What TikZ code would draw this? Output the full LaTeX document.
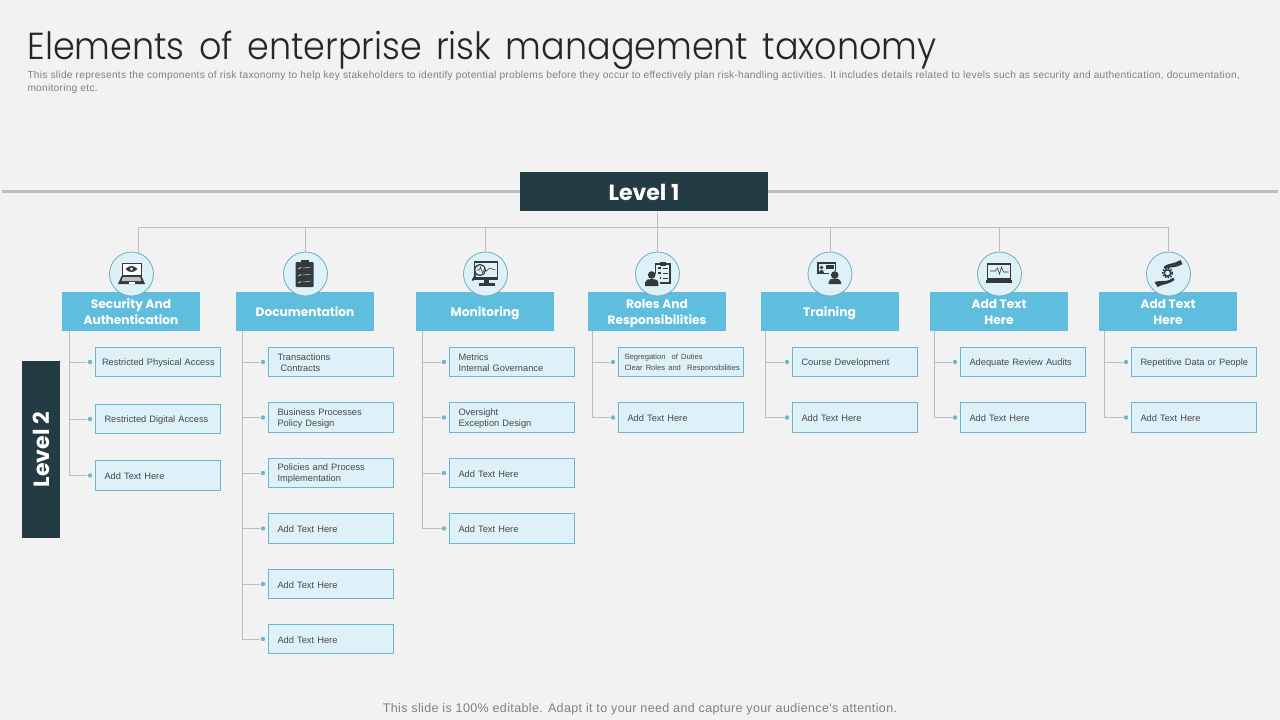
\documentclass[tikz,border=0pt]{standalone}
\usepackage{fontspec}
\setmainfont{Liberation Sans}
\newfontfamily\titlefont[WordSpace=1.5,FakeStretch=0.93]{Poppins Light}
\newfontfamily\headfont{Poppins}[BoldFont={* Bold}]
\newfontfamily\introfont[LetterSpace=2.5]{Liberation Sans}
\newfontfamily\footfont[LetterSpace=3]{Liberation Sans}
\definecolor{pagebg}{HTML}{F2F2F2}
\definecolor{darkteal}{HTML}{233B42}
\definecolor{headblue}{HTML}{5FBDDE}
\definecolor{kidfill}{HTML}{DFF1F8}
\definecolor{kidline}{HTML}{6DB6D2}
\definecolor{treeline}{HTML}{BDBDBD}
\definecolor{icondark}{HTML}{333A3D}
\definecolor{bodygray}{HTML}{808080}
\newcommand{\fs}[2]{\fontsize{#1}{#2}\selectfont}
\newcommand{\headstrut}{\rule[-3.3pt]{0pt}{16pt}}
\newcommand{\twolines}[2]{\headstrut #1\\\headstrut #2}
%% icons, drawn round the centre of their circle
\newcommand{\iconeye}{
  \draw[icondark,fill=white,line width=0.9] (-9.5,-11) rectangle (9.5,1);
  \fill[icondark] (-6,-5) .. controls (-2,-9) and (2,-9) .. (6,-5) .. controls (2,-1) and (-2,-1) .. (-6,-5);
  \fill[kidfill] (0,-5) circle (1.6);
  \fill[icondark] (-10,2) -- (10,2) -- (13.5,10) -- (-13.5,10) -- cycle;
  \fill[white!75!black] (-8.5,3) -- (8.5,3) -- (10,7) -- (-10,7) -- cycle;
  \fill[white] (-3,8) rectangle (3,10);
}
\newcommand{\iconclip}{
  \fill[icondark,rounded corners=1] (-10,-12) rectangle (8,13);
  \fill[icondark] (-5,-14) rectangle (3,-10);
  \foreach \y in {-6,1,8} {
    \draw[white!85!black,line width=0.6] (-7.5,\y) -- (-6,\y+0.8) -- (-4.5,\y-1);
    \draw[white!70!black,line width=0.6] (-3,\y) -- (5,\y-0.8);
  }
}
\newcommand{\iconscope}{
  \draw[icondark,line width=1.2] (-11,-12) rectangle (12,5);
  \fill[icondark] (-11,3) rectangle (12,6);
  \fill[icondark] (-2,5) rectangle (3,10);
  \fill[icondark] (-7,9) rectangle (9,11.5);
  \draw[icondark,fill=kidfill,line width=1.2] (-5.5,-4) circle (5.5);
  \draw[icondark,line width=1.8] (-9.5,0) -- (-13,6.5);
  \draw[icondark,line width=0.6] (-9,-4) -- (-6,-4) -- (-5,-7) -- (-3,-1) -- (-1,-5) -- (1,-3) -- (4,-6) -- (10,-4);
}
\newcommand{\iconroles}{
  \draw[icondark,fill=kidfill,line width=1.1] (-2,-10) rectangle (12.5,9);
  \fill[icondark] (2,-12.5) rectangle (8,-8.5);
  \foreach \y in {-6,-1,4} {
    \fill[icondark] (0.5,\y-1.2) rectangle (3,\y+1.2);
    \draw[icondark,line width=0.8] (5.5,\y) -- (10.5,\y);
  }
  \fill[kidfill] (-14,-0) rectangle (2,13);
  \fill[icondark] (-5.8,1) circle (3.8);
  \fill[icondark] (-12.5,12) -- (-12.5,8.5) .. controls (-12,5.5) and (-9,5) .. (-6,5) .. controls (-3,5) and (0.5,5.5) .. (0.8,8.5) -- (0.8,12) -- cycle;
}
\newcommand{\icontrain}{
  \draw[icondark,line width=1.1] (-12,-11) rectangle (5.5,-0.5);
  \fill[icondark] (-8.5,-6.5) circle (1.8);
  \fill[icondark] (-11,-1) .. controls (-11,-5) and (-6,-5) .. (-6,-1) -- cycle;
  \fill[icondark] (-4,-9.5) rectangle (3.5,-5.5);
  \fill[kidfill] (-1,-3) rectangle (11,11);
  \fill[icondark] (4.7,1) circle (3.8);
  \fill[icondark] (-1.5,10) -- (-1.5,8) .. controls (-1,5) and (2,4.5) .. (4.7,4.5) .. controls (7.5,4.5) and (10.5,5) .. (11,8) -- (11,10) -- cycle;
}
\newcommand{\iconpulse}{
  \draw[icondark,line width=1.1] (-12,-10) rectangle (11,5);
  \fill[icondark] (-13.5,6) rectangle (12.5,9);
  \draw[icondark,line width=0.6] (-9.5,-3) -- (-4,-3) -- (-2,-6) -- (0,0) -- (2,-7) -- (4,-2) -- (9,-2);
}
\newcommand{\iconhands}{
  \fill[icondark] (-4,-8) .. controls (0,-11) and (6,-10) .. (12,-14) -- (14,-10) .. controls (8,-6) and (3,-7) .. (-1,-6) .. controls (-3,-5) and (-4,-5) .. (-5,-6) -- cycle;
  \fill[icondark] (-14,8) .. controls (-8,6) and (-4,8) .. (1,6) .. controls (2,5) and (3,4) .. (5,4) -- (6,6) .. controls (2,10) and (-6,10) .. (-11,13) -- cycle;
  \draw[icondark,line width=1.6,dash pattern=on 1.6 off 1.2] (-1,-1) circle (4.8);
  \draw[icondark,fill=kidfill,line width=1.4] (-1,-1) circle (3.2);
}
\begin{document}
\begin{tikzpicture}
[x=1pt,y=-1pt,line width=1,
  levelbox/.style={fill=darkteal,text=white,inner sep=0pt,font=\headfont\bfseries\fs{22}{24}},
  headbox/.style={fill=headblue,text=white,minimum width=138,minimum height=39,inner sep=0pt,
    align=center,font=\headfont\bfseries\fs{12.2}{16}},
  iconcircle/.style={shape=circle,draw=kidline!80!gray,fill=kidfill,minimum size=44,inner sep=0pt,line width=0.8},
  kidbox/.style={anchor=west,draw=kidline,fill=kidfill,minimum width=124.8,minimum height=29.5,
    text width=106.8,inner xsep=9,align=left,text=black!72,font=\fs{9.3}{11},
    execute at begin node=\rule{0pt}{8.5pt}},
  kiddot/.style={shape=circle,fill=kidline,inner sep=0pt,minimum size=4.4},
  treedecorate/.style={-,draw=treeline,line width=1}]
\useasboundingbox (0,0) rectangle (1280,720);
\fill[pagebg] (0,0) rectangle (1280,720);
%% title and notes
\node (title) at (27,50) [anchor=west,inner sep=0pt,text=black!85,font=\titlefont\fs{37.6}{40}]
  {Elements of enterprise risk management taxonomy};
\node (intro) at (27,82) [anchor=west,inner sep=0pt,align=left,text=bodygray,font=\introfont\fs{10.2}{13}]
  {This slide represents the components of risk taxonomy to help key stakeholders to identify potential problems before they occur to effectively plan risk-handling activities. It includes details related to levels such as security and authentication, documentation,\\
  monitoring etc.};
\node (footer) at (640,709) [inner sep=0pt,text=black!50,font=\footfont\fs{12.5}{14}]
  {This slide is 100\% editable. Adapt it to your need and capture your audience's attention.};
%% level boxes
\coordinate (barleft) at (2,191.5);
\coordinate (barright) at (1278,191.5);
\draw[treeline,line width=3] (barleft) -- (barright);
\node (level1) at (644,191.5) [levelbox,minimum width=248,minimum height=39] {\rule[-3pt]{0pt}{24pt}Level 1};
\node (level2) at (41,449.5) [levelbox,minimum width=177,minimum height=38,rotate=90] {Level 2};
%% column heads and icons
\foreach \col/\x/\cx/\title/\icon in {
  a/131/131.5/{\twolines{Security And}{Authentication}}/\iconeye,
  b/305/305.5/{\headstrut Documentation}/\iconclip,
  c/485/485.5/{\headstrut Monitoring}/\iconscope,
  d/657/657.5/{\twolines{Roles And}{Responsibilities}}/\iconroles,
  e/829.5/830/{\headstrut Training}/\icontrain,
  f/999/999.5/{\twolines{Add Text}{Here}}/\iconpulse,
  g/1168/1168.5/{\twolines{Add Text}{Here}}/\iconhands}
{
  \node (\col-head) at (\x,311.5) [headbox] {\title};
  \node (\col-icon) at (\cx,274) [iconcircle] {};
  \begin{scope}[shift={(\col-icon.center)}]
    \icon
  \end{scope}
}
%% trunks of the columns
\foreach \col/\x in {a/69.5, b/242.5, c/422, d/592.5, e/765.5, f/934.5, g/1104.5}
{
  \coordinate (\col-trunk) at (\x,331);
}
%% boxes of level 2
\foreach \kid/\col/\x/\y/\txt in {
  a1/a/95/362/{\hspace*{-2.5pt}\mbox{Restricted Physical Access}},
  a2/a/95/419/Restricted Digital Access,
  a3/a/95/475.5/Add Text Here,
  b1/b/268/362/{Transactions\\\hspace*{3pt}Contracts},
  b2/b/268/417.5/{Business Processes\\Policy Design},
  b3/b/268/473/{Policies and Process\\Implementation},
  b4/b/268/528.5/Add Text Here,
  b5/b/268/584/Add Text Here,
  b6/b/268/639/Add Text Here,
  c1/c/449/362/{Metrics\\Internal Governance},
  c2/c/449/417.5/{Oversight\\Exception Design},
  c3/c/449/473/Add Text Here,
  c4/c/449/528.5/Add Text Here,
  d1/d/618/362/{\fs{7.6}{9.5}\hspace*{-3pt}\mbox{Segregation \ of Duties}\\\hspace*{-3pt}\mbox{Clear Roles and \ Responsibilities}},
  d2/d/618/417.5/Add Text Here,
  e1/e/792/362/Course Development,
  e2/e/792/417.5/Add Text Here,
  f1/f/960/362/Adequate Review Audits,
  f2/f/960/417.5/Add Text Here,
  g1/g/1131/362/{\mbox{Repetitive Data or People}},
  g2/g/1131/417.5/Add Text Here}
{
  \node (\kid) at (\x,\y) [kidbox] {\txt};
  \node (\kid-dot) at (\x-5,\y) [kiddot] {};
  \draw[treedecorate] (\col-trunk) |- (\kid-dot);
}
%% edges from level 1
\coordinate (busleft) at (a-icon.71 |- 0,227);
\coordinate (busright) at (g-icon.north |- 0,227);
\draw[treedecorate] (busleft) -- (busright);
\draw[treedecorate] (busleft) -- (a-icon.71);
\foreach \col in {b, c, e, f, g}
{
  \draw[treedecorate] (\col-icon.north |- busleft) -- (\col-icon.north);
}
\draw[treedecorate] (d-icon.north |- level1.south) -- (d-icon.north);
\end{tikzpicture}
\end{document}
